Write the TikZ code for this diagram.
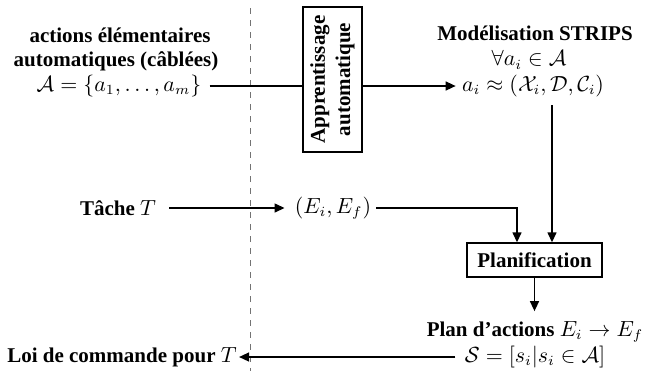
\documentclass[tikz,border=0pt]{standalone}
\usepackage{fontspec}
\setmainfont{Liberation Serif}
\usetikzlibrary{arrows.meta}
\begin{document}
\begin{tikzpicture}[x=0.5pt,y=-0.5pt,
  font=\fontsize{10.5}{12.6}\selectfont\bfseries,
  txt/.style={inner sep=0pt},
  box/.style={draw, line width=0.7pt, inner sep=0pt},
  conn/.style={line width=0.7pt},
  arr/.style={conn,-{Triangle[length=5pt,width=4.5pt]}}]
\useasboundingbox (0,0) rectangle (647,371);
\draw[black!55, dash pattern=on 3pt off 3pt, line width=0.5pt] (250,8) -- (250,371);
% left block
\node[txt] (act1) at (120,35) {actions élémentaires};
\node[txt] (act2) at (116,61) {automatiques (câblées)};
\node[txt] (A) at (119,86) {$\mathcal{A}=\{a_1,\ldots,a_m\}$};
% learning box
\node[box, minimum width=29.5pt, minimum height=72.5pt] (app) at (332.5,79.5) {};
\node[txt, rotate=90, align=center] (appt) at (app.center) {Apprentissage\\automatique};
% STRIPS
\node[txt] (s1) at (535,33) {Modélisation STRIPS};
\node[txt] (s2) at (529,60) {$\forall a_i\in\mathcal{A}$};
\node[txt] (ai) at (533,86) {$a_i\approx(\mathcal{X}_i,\mathcal{D},\mathcal{C}_i)$};
% task
\node[txt] (tache) at (118,208) {Tâche $T$};
\node[txt] (Ei) at (333,208) {$(E_i,E_f)$};
% planification
\node[box, minimum width=67.5pt, minimum height=17pt] (plan) at (534.5,260) {Planification};
\node[txt] (pa) at (535,332) {Plan d'actions $E_i\rightarrow E_f$};
\node[txt] (S) at (535,357) {$\mathcal{S}=[s_i|s_i\in\mathcal{A}]$};
\node[txt] (loi) at (122,357) {Loi de commande pour $T$};
\coordinate (c1) at (552,0);
\coordinate (c2) at (517,0);
% connectors
\draw[conn, shorten <=4pt] (A.east) -- (A.east -| app.west);
\draw[arr, shorten >=3pt] (app.east |- ai.west) -- (ai.west);
\draw[arr, shorten <=4pt] (ai.south -| c1) -- (plan.north -| c1);
\draw[arr, shorten <=6.5pt, shorten >=5pt] (tache.east) -- (Ei.west);
\draw[arr, shorten <=2.5pt] (Ei.east) -| (plan.north -| c2);
\draw[arr, shorten >=5pt] (plan.south) -- (pa.north -| plan.south);
\draw[arr, shorten <=4.5pt, shorten >=1pt] (S.west) -- (loi.east);
\end{tikzpicture}
\end{document}
